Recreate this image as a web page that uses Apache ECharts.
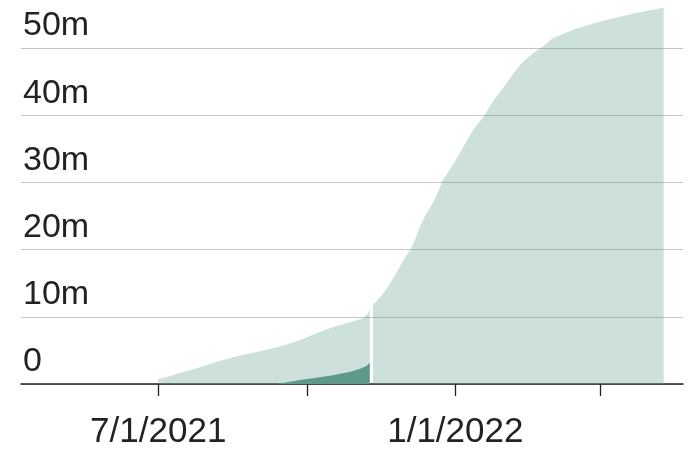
<!DOCTYPE html>
<html>
<head>
<meta charset="utf-8">
<script src="https://cdn.jsdelivr.net/npm/echarts@6/dist/echarts.min.js"></script>
<style>
  html, body { margin: 0; padding: 0; background: #ffffff; }
  #chart { width: 697px; height: 451px; }
</style>
</head>
<body>
<div id="chart"></div>
<script>
// Light series, first segment (through ~Nov 9, 2021), in millions
const preDates = ['2021-07-01','2021-07-06','2021-07-16','2021-07-27','2021-08-06','2021-08-16','2021-08-27',
  '2021-09-06','2021-09-16','2021-09-27','2021-10-07','2021-10-17','2021-10-28','2021-11-05','2021-11-08','2021-11-09'];
const preValues = [0.75, 1.0, 1.74, 2.48, 3.27, 3.97, 4.56, 5.06, 5.7, 6.55, 7.54, 8.44, 9.18, 9.78, 10.5, 11.26];

// Dark series (overlay), in millions
const darkDates = ['2021-09-12','2021-09-16','2021-09-27','2021-10-07','2021-10-17','2021-10-28','2021-11-03','2021-11-07','2021-11-09'];
const darkValues = [0, 0.15, 0.6, 0.94, 1.29, 1.84, 2.28, 2.68, 3.17];

// Light series, second segment (from Nov 11, 2021), in millions
const postDates = ['2021-11-11','2021-11-15','2021-11-19','2021-11-23','2021-11-27','2021-12-01','2021-12-04','2021-12-07',
  '2021-12-10','2021-12-13','2021-12-18','2021-12-21','2021-12-24','2021-12-31','2022-01-06','2022-01-12','2022-01-19',
  '2022-01-25','2022-01-31','2022-02-06','2022-02-12','2022-02-18','2022-02-24','2022-03-02','2022-03-15','2022-03-28',
  '2022-04-08','2022-04-21','2022-05-03','2022-05-10'];
const postValues = [11.8, 12.8, 14.0, 15.5, 17.2, 18.9, 19.9, 21.4, 23.4, 24.9, 26.9, 28.4, 30.2, 32.8, 35.3, 37.8, 40.0,
  42.3, 44.2, 46.2, 48.0, 49.2, 50.2, 51.4, 52.7, 53.7, 54.4, 55.1, 55.7, 56.0];

// Axis ticks
const xTickDates = ['2021-07-01','2021-10-01','2022-01-01','2022-04-01'];
const xLabelDates = ['2021-07-01','2022-01-01'];
const xMin = '2021-04-07';
const xMax = '2022-05-22';
const yTicks = [0, 10, 20, 30, 40, 50];
const yMin = 0, yMax = 60, yStep = 10;

const ts = s => { const p = s.split('-').map(Number); return Date.UTC(p[0], p[1] - 1, p[2]); };
const zip = (d, v) => d.map((x, i) => [ts(x), v[i]]);
const FONT = '"Liberation Sans", Arial, sans-serif';

const chart = echarts.init(document.getElementById('chart'), null, { renderer: 'canvas' });

const areaSeries = (name, data, color, z) => ({
  name, type: 'line', data, z,
  showSymbol: false, symbol: 'none',
  lineStyle: { width: 0, opacity: 0 },
  areaStyle: { color, opacity: 1 },
  silent: true, animation: false
});

chart.setOption({
  animation: false,
  backgroundColor: '#ffffff',
  grid: { left: 21, right: 14, top: -19.2, bottom: 67, containLabel: false, outerBoundsMode: 'none' },
  xAxis: {
    type: 'value',
    min: ts(xMin), max: ts(xMax),
    axisLine: { show: true, onZero: false, lineStyle: { color: '#222222', width: 1.5 } },
    axisTick: { show: true, length: 12, lineStyle: { color: '#222222', width: 1.3 }, customValues: xTickDates.map(ts) },
    splitLine: { show: false },
    axisLabel: {
      customValues: xLabelDates.map(ts),
      margin: 31,
      fontSize: 35, lineHeight: 35,
      fontFamily: FONT, color: '#222222',
      formatter: function (val) {
        const d = new Date(val);
        return (d.getUTCMonth() + 1) + '/' + d.getUTCDate() + '/' + d.getUTCFullYear();
      }
    }
  },
  yAxis: {
    type: 'value',
    min: yMin, max: yMax, interval: yStep,
    axisLine: { show: false },
    axisTick: { show: false, customValues: yTicks },
    splitLine: { show: true, lineStyle: { color: '#c4c4c4', width: 1.2 } },
    axisLabel: {
      customValues: yTicks,
      inside: true, margin: 2,
      align: 'left', verticalAlign: 'bottom',
      fontSize: 34, lineHeight: 34, padding: [0, 0, 5, 0],
      fontFamily: FONT, color: '#222222',
      formatter: v => v === 0 ? '0' : v + 'm'
    }
  },
  series: [
    areaSeries('pre', zip(preDates, preValues), 'rgba(102,160,150,0.33)', 2),
    areaSeries('dark', zip(darkDates, darkValues), '#5f998c', 3),
    areaSeries('post', zip(postDates, postValues), 'rgba(102,160,150,0.33)', 2)
  ]
});
</script>
</body>
</html>
